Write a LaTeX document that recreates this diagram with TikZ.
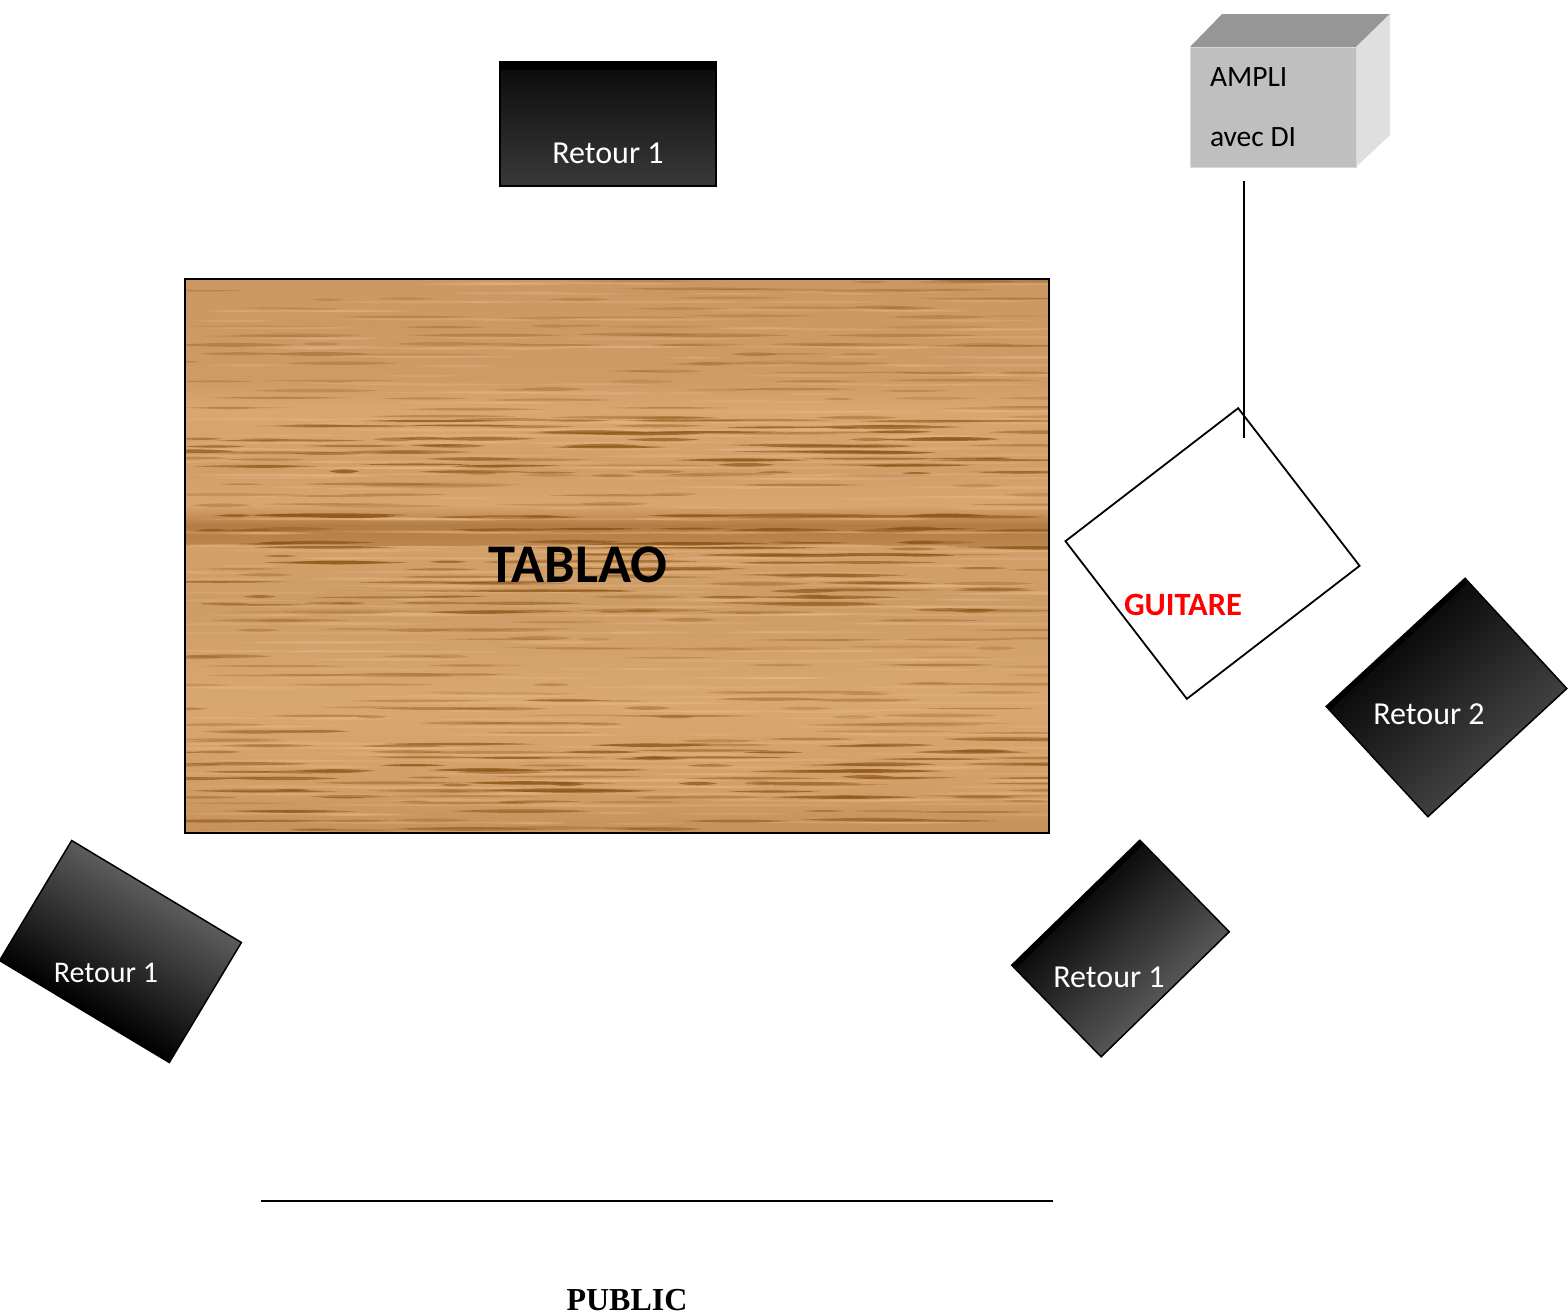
\documentclass[tikz,border=0pt]{standalone}
\usepackage{fontspec}
\setmainfont{Carlito}
\newfontfamily\pubfont{Liberation Serif}
\definecolor{ampfront}{HTML}{BFBFBF}
\definecolor{amptop}{HTML}{969696}
\definecolor{ampside}{HTML}{DFDFDF}
\definecolor{ampedge}{HTML}{D8D8D8}
\definecolor{grain}{HTML}{8F5719}
\definecolor{grainlight}{HTML}{E9BC8A}
\definecolor{woodA}{HTML}{CB9864}
\definecolor{woodB}{HTML}{CE9B67}
\definecolor{woodC}{HTML}{DAA772}
\definecolor{woodD}{HTML}{D19E68}
\definecolor{woodE}{HTML}{D9A570}
\definecolor{woodF}{HTML}{B27C44}
\definecolor{woodG}{HTML}{D4A06A}
\definecolor{woodH}{HTML}{CD9C66}
\definecolor{woodI}{HTML}{D9A771}
\definecolor{woodJ}{HTML}{C5905A}
\definecolor{shA}{HTML}{0A0A0A}
\definecolor{shB}{HTML}{393939}
\definecolor{shC}{HTML}{5C5C5C}
\definecolor{shD}{HTML}{565656}
\definecolor{shE}{HTML}{404040}
\tikzset{
  monitor/.style={draw=black,line width=1.5pt,inner sep=0pt,outer sep=0pt},
  blackband/.style={path picture={\fill[black] (path picture bounding box.north west) rectangle ([yshift=-#1]path picture bounding box.north east);}},
  lbl/.style={inner sep=0pt,outer sep=0pt,font=\fontsize{32}{38}\selectfont},
  lblwhite/.style={lbl,text=white},
  wire/.style={draw=black,line width=1.8pt},
  ampface/.style={draw=ampedge,line width=.8pt,line join=round},
}
\begin{document}
\begin{tikzpicture}[x=1pt,y=-1pt]
\useasboundingbox (0,0) rectangle (1568,1315);
% ---- wood floor
\begin{scope}
\clip (185,279) rectangle (1049,833);
\foreach \ya/\yb/\ca/\cb in {
 279/380/woodA/woodB, 380/410/woodB/woodC, 410/470/woodC/woodD, 470/505/woodD/woodE,
 505/525/woodE/woodF, 525/546/woodF/woodF!70!woodG, 546/600/woodG/woodH,
 600/700/woodH/woodI, 700/790/woodI/woodD, 790/833/woodD/woodJ}{
  \shade[top color=\ca,bottom color=\cb] (185,\ya) rectangle (1049,\yb+.5);
}
\pgfmathsetseed{4217}
\foreach \za/\zb/\zs/\n/\op in {
 281/345/9/6/.30, 345/420/9/6/.36, 420/475/6.5/10/.68, 475/508/10/6/.38,
 516/548/13.5/15/.80, 548/612/7/9/.62, 612/700/9/7/.30, 700/745/8/7/.40,
 745/802/6.5/10/.70, 802/833/9/7/.52}{
  \pgfmathtruncatemacro\nr{(\zb-\za)/\zs}
  \foreach \j in {0,...,\nr}{
    \pgfmathsetmacro\ry{\za+\j*\zs}
    \foreach \k in {1,...,\n}{
      \pgfmathsetmacro\sx{185+rnd*864-40}
      \pgfmathsetmacro\sl{30+rnd*130}
      \pgfmathsetmacro\sy{\ry+(rnd-.5)*2.5}
      \pgfmathsetmacro\st{1+rnd*1.6}
      \pgfmathsetmacro\so{min(1,\op*(.45+rnd*.75))}
      \fill[grain,opacity=\so]
        (\sx,\sy) .. controls (\sx+\sl*.35,\sy-\st) and (\sx+\sl*.65,\sy-\st) .. (\sx+\sl,\sy)
        .. controls (\sx+\sl*.65,\sy+\st) and (\sx+\sl*.35,\sy+\st) .. cycle;
      \pgfmathsetmacro\lx{185+rnd*864-40}
      \pgfmathsetmacro\ll{50+rnd*160}
      \pgfmathsetmacro\ly{\ry+3+(rnd-.5)*2}
      \fill[grainlight,opacity=.28]
        (\lx,\ly) .. controls (\lx+\ll*.35,\ly-1.6) and (\lx+\ll*.65,\ly-1.6) .. (\lx+\ll,\ly)
        .. controls (\lx+\ll*.65,\ly+1.6) and (\lx+\ll*.35,\ly+1.6) .. cycle;
    }
  }
}
\end{scope}
\node[draw=black,line width=2.4pt,inner sep=0pt,outer sep=0pt,minimum width=864pt,minimum height=554pt] (floor) at (617,556) {};
\node[inner sep=0pt,font=\fontsize{54.5}{64}\selectfont\bfseries] (tablao) at (578,565) {TABLAO};
% ---- monitors
\node[monitor,minimum width=216pt,minimum height=124pt,top color=shA,bottom color=shB,blackband=8pt] (backmon) at (608,124) {};
\node[lblwhite] (backlbl) at (608,153) {Retour 1};
\begin{scope}[transform canvas={rotate around={-31:(120.5,951.5)}}]
\node[monitor,minimum width=198pt,minimum height=140pt,top color=shC,bottom color=black] (leftmon) at (120.5,951.5) {};
\end{scope}
\node[lblwhite,font=\fontsize{30}{36}\selectfont] (leftlbl) at (106,973) {Retour 1};
\begin{scope}[transform canvas={rotate around={44.3:(1120.5,948.5)}}]
\node[monitor,minimum width=179pt,minimum height=128pt,top color=shA,bottom color=shD,blackband=5pt] (rightmon) at (1120.5,948.5) {};
\end{scope}
\node[lblwhite] (rightlbl) at (1109,977) {Retour 1};
\begin{scope}[transform canvas={rotate around={42.7:(1446.5,697.5)}}]
\node[monitor,minimum width=189pt,minimum height=150pt,top color=shA,bottom color=shE,blackband=5pt] (farmon) at (1446.5,697.5) {};
\end{scope}
\node[lblwhite] (farlbl) at (1429,714) {Retour 2};
% ---- guitar
\node[draw=black,line width=1.8pt,fill=white,inner sep=0pt,outer sep=0pt,minimum width=218pt,minimum height=199pt,rotate=37.6] (guitar) at (1212.5,553.5) {};
\node[lbl,text=red,font=\fontsize{32.5}{38}\selectfont\bfseries] (guitarlbl) at (1183,605) {GUITARE};
% ---- amp
\fill[amptop] (1190,47) -- (1222,14) -- (1390,14) -- (1356,47) -- cycle;
\fill[ampside] (1356,47) -- (1390,14) -- (1390,135) -- (1356,167) -- cycle;
\node[ampface,fill=ampfront,inner sep=0pt,outer sep=0pt,minimum width=166pt,minimum height=120pt] (amp) at (1273,107) {};
\node[lbl,anchor=base west,font=\fontsize{29.5}{34}\selectfont] (amplbla) at (1210,86) {AMPLI};
\node[lbl,anchor=base west,font=\fontsize{29.5}{34}\selectfont] (amplblb) at (1210,146) {avec DI};
% ---- cable
\coordinate (cabletop) at (1244,181);
\coordinate (cablebot) at (1244,438);
\draw[wire] (cabletop) -- (cablebot);
% ---- public
\coordinate (pubL) at (261,1201);
\coordinate (pubR) at (1053,1201);
\draw[wire] (pubL) -- (pubR);
\node[inner sep=0pt,font=\pubfont\fontsize{32}{38}\selectfont\bfseries] (public) at (627,1300) {PUBLIC};
\end{tikzpicture}
\end{document}
